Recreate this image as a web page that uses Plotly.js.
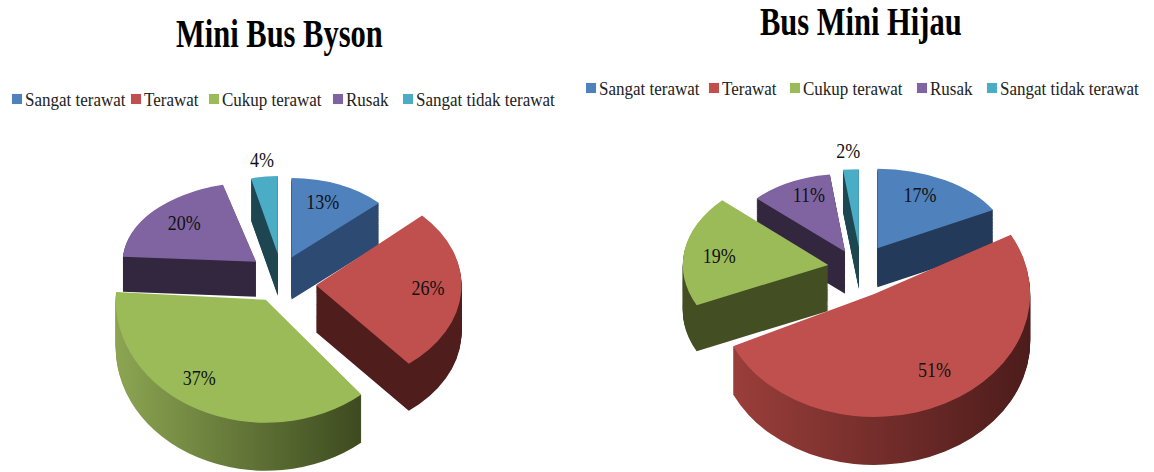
<!DOCTYPE html>
<html>
<head>
<meta charset="utf-8">
<script src="https://cdn.plot.ly/plotly-3.0.1.min.js"></script>
<style>html,body{margin:0;padding:0;background:#fff}#chart{width:1154px;height:472px}</style>
</head>
<body>
<div id="chart"></div>
<script>
// data
var categories = ['Sangat terawat', 'Terawat', 'Cukup terawat', 'Rusak', 'Sangat tidak terawat'];
var titleLeft = 'Mini Bus Byson';
var titleRight = 'Bus Mini Hijau';
var valuesLeft = [13, 26, 37, 20, 4];
var valuesRight = [17, 51, 19, 11, 2];

// style
var topColors = ['#4f81bd', '#c0504d', '#9bbb59', '#8064a2', '#4bacc6'];
var textSpots = ['inside', 'inside', 'inside', 'inside', 'outside'];
var FONT = '"Liberation Serif", "Times New Roman", serif';
var R0 = 150;
var LAYERS = 48;
var W = 1154, H = 472;
var TEXT_STRETCH = 1.16, TITLE_STRETCH = 1.3;

var pies = [
  { values: valuesLeft, cx: 287, cy: 272, legend: 'legend', group: 'a',
    pullPx: [30, 30, 38, 45, 35],
    sx: [0.80, 0.97, 1.00, 0.89, 0.72],
    sy: [0.53, 0.68, 0.82, 0.53, 0.52],
    shiftX: [-5, 0, -4, 0, -6],
    shiftY: [0, 12, 0, 5, 0],
    depth: [42, 47, 48, 35, 42],
    nudgeX: [-8, 28, -35, -7, 4],
    nudgeY: [-3, 11, 21, -2, -12],
    legendRow: 99,
    legendStart: [12, 131, 209, 333, 403],
    side: [['#2c4a72','#2c4a72'], ['#4e1d1c','#4e1d1c'], ['#8ca552','#3d4a1f'], ['#33263f','#33263f'], ['#1e4650','#1e4650']] },
  { values: valuesRight, cx: 858, cy: 268, legend: 'legend2', group: 'b',
    pullPx: [30, 30, 31, 35, 40],
    sx: [0.88, 1.04, 0.97, 0.81, 0.85],
    sy: [0.53, 0.82, 0.63, 0.52, 0.52],
    shiftX: [6, 2, 0, 0, 3],
    shiftY: [-6, 4, 0, 0, 0],
    depth: [39, 48, 46, 42, 42],
    nudgeX: [4, 27, -17, 5, 15],
    nudgeY: [-14, 25, 0, -5, -13],
    legendRow: 88,
    legendStart: [586, 709, 790, 917, 987],
    side: [['#243a5a','#243a5a'], ['#9a3e3a','#4c1c1b'], ['#434f22','#434f22'], ['#33263f','#33263f'], ['#1e4650','#1e4650']] }
];

var traces = [], traceInfo = [];
pies.forEach(function (p, pi) {
  var maxPull = Math.max.apply(null, p.pullPx) / R0;
  var half = R0 * (1 + maxPull);
  var domain = {
    x: [(p.cx - half) / W, (p.cx + half) / W],
    y: [1 - (p.cy + half) / H, 1 - (p.cy - half) / H]
  };
  var pull = p.pullPx.map(function (v) { return v / R0; });
  for (var l = LAYERS; l >= 0; l--) {
    var isTop = l === 0;
    traces.push({
      type: 'pie', sort: false, direction: 'clockwise', rotation: 0,
      labels: categories, values: p.values, pull: pull, domain: domain,
      marker: { colors: topColors, line: { width: 0 } },
      textinfo: isTop ? 'percent' : 'none',
      textposition: textSpots,
      insidetextorientation: 'horizontal',
      textfont: { family: FONT, size: 18, color: '#111' },
      showlegend: isTop,
      legend: p.legend,
      legendgroup: p.group,
      hoverinfo: 'skip'
    });
    traceInfo.push({ pie: p, pi: pi, t: l / LAYERS, isTop: isTop });
  }
});

function legendCfg(x, y) {
  return {
    orientation: 'h', x: x, y: y, xanchor: 'left', yanchor: 'middle',
    font: { family: FONT, size: 17, color: '#222' },
    itemclick: false, itemdoubleclick: false,
    bgcolor: 'rgba(0,0,0,0)', tracegroupgap: 0
  };
}

var layout = {
  width: W, height: H, margin: { l: 0, r: 0, t: 0, b: 0 },
  paper_bgcolor: '#fff',
  showlegend: true,
  legend: legendCfg(0, 1 - 99 / H),
  legend2: legendCfg(0.5, 1 - 88 / H),
  annotations: [
    { text: '<b>' + titleLeft + '</b>', xref: 'paper', yref: 'paper', x: 279.5 / W, y: 1 - 34 / H,
      xanchor: 'center', yanchor: 'middle', showarrow: false, font: { family: FONT, size: 30.5, color: '#000' } },
    { text: '<b>' + titleRight + '</b>', xref: 'paper', yref: 'paper', x: 861 / W, y: 1 - 22 / H,
      xanchor: 'center', yanchor: 'middle', showarrow: false, font: { family: FONT, size: 30.5, color: '#000' } }
  ]
};

// one tight row per legend: small swatch right next to its text
function tidyLegends() {
  gd.querySelectorAll('g.legend, g.legend2').forEach(function (lg) {
    var which = lg.classList.contains('legend2') ? 1 : 0;
    var p = pies[which];
    lg.setAttribute('transform', 'translate(0,' + p.legendRow + ')');
    lg.querySelectorAll('[clip-path]').forEach(function (n) { n.removeAttribute('clip-path'); });
    lg.removeAttribute('clip-path');
    var box = lg.querySelector('.scrollbox');
    if (box) box.setAttribute('transform', '');
    lg.querySelectorAll('g.groups').forEach(function (gg) { gg.setAttribute('transform', ''); });
    lg.querySelectorAll('g.traces').forEach(function (item, i) {
      item.setAttribute('transform', 'translate(' + p.legendStart[i] + ',0)');
      item.querySelectorAll('.legendpoints path').forEach(function (q) {
        q.setAttribute('transform', 'translate(5,0) scale(0.84)');
      });
      var txt = item.querySelector('text.legendtext, text.legend2text');
      if (txt) {
        var b = txt.getBBox();
        var ty = parseFloat(txt.getAttribute('y')) || 0;
        txt.setAttribute('transform', 'translate(' + (13 - b.x) + ',' + ty + ') scale(1,' + TEXT_STRETCH + ') translate(0,' + (-ty) + ')');
      }
    });
  });
}

var gd = document.getElementById('chart');
Plotly.newPlot(gd, traces, layout, { displayModeBar: false, staticPlot: true }).then(function () {
  var NS = 'http://www.w3.org/2000/svg';
  var svg = gd.querySelector('svg.main-svg');
  var defs = svg.querySelector('defs') || svg.insertBefore(document.createElementNS(NS, 'defs'), svg.firstChild);
  pies.forEach(function (p, pi) {
    p.side.forEach(function (c, si) {
      var g = document.createElementNS(NS, 'linearGradient');
      g.setAttribute('id', 'side' + pi + '_' + si);
      [[0, c[0]], [1, c[1]]].forEach(function (st) {
        var s = document.createElementNS(NS, 'stop');
        s.setAttribute('offset', st[0]);
        s.setAttribute('stop-color', st[1]);
        g.appendChild(s);
      });
      defs.appendChild(g);
    });
  });
  var groups = gd.querySelectorAll('.pielayer > g.trace');
  groups.forEach(function (grp, ti) {
    var info = traceInfo[ti], p = info.pie;
    var cx = gd.calcdata[ti][0].cx, cy = gd.calcdata[ti][0].cy;
    grp.querySelectorAll('g.slice').forEach(function (sl, si) {
      var sx = p.sx[si], sy = p.sy[si], dy = info.t * p.depth[si] + p.shiftY[si], dx = p.shiftX[si];
      sl.setAttribute('transform', 'translate(' + dx + ',' + dy + ') translate(' + cx + ',' + cy + ') scale(' + sx + ',' + sy + ') translate(' + (-cx) + ',' + (-cy) + ')');
      var surf = sl.querySelector('path.surface');
      if (!info.isTop && surf) surf.style.fill = 'url(#side' + info.pi + '_' + si + ')';
      var line = sl.querySelector('path.textline');
      if (line) line.style.display = 'none';
      var tg = sl.querySelector('g.slicetext');
      if (tg) {
        var b = tg.getBBox();
        var mx = b.x + b.width / 2, my = b.y + b.height / 2;
        tg.setAttribute('transform',
          'translate(' + (mx + (p.nudgeX[si] - dx) / sx) + ',' + (my + (p.nudgeY[si] - p.shiftY[si]) / sy) + ') scale(' + (1 / sx) + ',' + (TEXT_STRETCH / sy) + ') translate(' + (-mx) + ',' + (-my) + ')');
      }
    });
  });

  tidyLegends();

  // titles are tall and narrow in the source
  gd.querySelectorAll('.annotation-text-g text').forEach(function (t) {
    var b = t.getBBox();
    var my = b.y + b.height / 2;
    t.setAttribute('transform', 'translate(0,' + my + ') scale(1,' + TITLE_STRETCH + ') translate(0,' + (-my) + ')');
  });
});
</script>
</body>
</html>
